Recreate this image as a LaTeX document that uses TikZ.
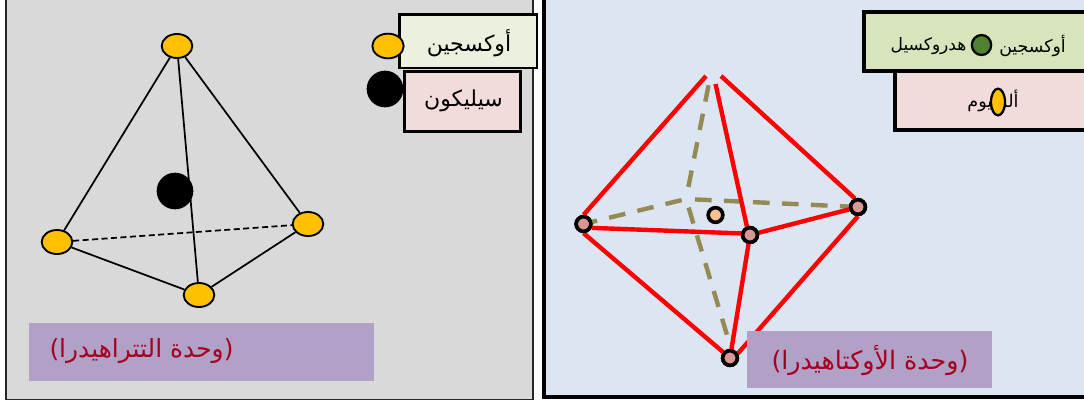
\documentclass[tikz,border=0pt]{standalone}
\usepackage{fontspec}
\TeXXeTstate=1
\newfontfamily\arabicfont[Script=Arabic]{DejaVu Sans}
\newcommand{\ar}[1]{{\arabicfont\beginR #1\endR}}
\definecolor{panelgrey}{HTML}{D9D9D9}
\definecolor{panelblue}{HTML}{DCE6F2}
\definecolor{oxy}{HTML}{FFC000}
\definecolor{palegreen}{HTML}{EBF1DE}
\definecolor{midgreen}{HTML}{D7E4BC}
\definecolor{palepink}{HTML}{F2DCDB}
\definecolor{purplebox}{HTML}{B2A1C7}
\definecolor{wine}{HTML}{A50021}
\definecolor{olivedash}{HTML}{948A54}
\definecolor{vertexpink}{HTML}{D99694}
\definecolor{peach}{HTML}{FAC090}
\definecolor{hydroxyl}{HTML}{4F8130}
\tikzset{
  x=0.75pt,y=-0.75pt,
  atom/.style={ellipse,draw=black,line width=1.4pt,fill=oxy,minimum width=23pt,minimum height=18pt,inner sep=0pt},
  blackatom/.style={circle,fill=black,minimum size=27.5pt,inner sep=0pt},
  vertexatom/.style={circle,draw=black,line width=2.7pt,fill=vertexpink,minimum size=11pt,inner sep=0pt},
  tedge/.style={draw=black,line width=1.3pt},
  redge/.style={draw=red,line width=3.3pt},
  hidden/.style={draw=olivedash,line width=3.3pt,dash pattern=on 12.5pt off 9.25pt},
  legend/.style={draw=black,line width=1.9pt,inner sep=0pt},
  caption/.style={fill=purplebox,inner sep=0pt},
  captiontext/.style={text=wine,inner sep=0pt},
  legendtext/.style={text=black,inner sep=0pt}
}
\usetikzlibrary{shapes.geometric}
\begin{document}
\begin{tikzpicture}
\useasboundingbox (0,0) rectangle (1084,401);
\fill[white] (0,0) rectangle (1084,401);
% left panel
\path[fill=panelgrey,draw=black!85,line width=1.4pt] (6,-5) rectangle (533,399.5);
% right panel
\path[fill=panelblue,draw=black,line width=3pt] (543.5,-5) rectangle (1095,396.5);

% tetrahedron
\node[atom] (ttop) at (177,46) {};
\node[atom] (tleft) at (57,242) {};
\node[atom] (tright) at (308,224) {};
\node[atom] (tbottom) at (199,295) {};
\draw[tedge] (ttop) -- (tleft);
\draw[tedge] (ttop) -- (tright);
\draw[tedge] (ttop) -- (tbottom);
\draw[tedge] (tleft) -- (tbottom);
\draw[tedge] (tright) -- (tbottom);
\draw[tedge,dash pattern=on 4.5pt off 2.6pt] (tleft) -- (tright);
\node[blackatom] (tcentre) at (175,191) {};

% tetra legend
\node[legend,fill=palegreen,minimum width=103pt,minimum height=40pt] (boxO) at (468.25,41.25) {};
\node[legend,fill=palepink,minimum width=87pt,minimum height=45pt] (boxSi) at (462.5,101.5) {};
\node[atom,minimum width=23.5pt,minimum height=18.5pt] (legO) at (388,46) {};
\node[blackatom] (legSi) at (385,89) {};
\node[legendtext,font=\fontsize{16.5}{18}\selectfont] (txtO) at (469,43) {\ar{أوكسجين}};
\node[legendtext,font=\fontsize{16.5}{18}\selectfont] (txtSi) at (463.5,101) {\ar{سيليكون}};

% tetra caption
\node[caption,minimum width=258.75pt,minimum height=43.5pt] (capT) at (201.5,352) {};
\node[captiontext,font=\fontsize{18.7}{22}\selectfont] (capTtxt) at (141.5,351) {\ar{(وحدة التتراهيدرا)}};

% octahedron
\coordinate (otopL) at (706,76);
\coordinate (otopR) at (721,76);
\coordinate (otopF) at (715.5,84);
\coordinate (otopD) at (709,83);
\coordinate (ocentre) at (686,199);
\coordinate (obottomD) at (730,345);
\node[vertexatom] (oleft) at (583.5,224) {};
\node[vertexatom] (oright) at (858,207) {};
\node[vertexatom] (ofront) at (750,235) {};
\node[vertexatom] (obottom) at (730,358) {};
\draw[hidden,dash phase=12.5pt] (ocentre) -- (otopD);
\draw[hidden,dash phase=15pt] (ocentre) -- (obottomD);
\draw[hidden,dash phase=18.4pt] (ocentre) -- (oleft);
\draw[hidden,dash phase=15pt] (ocentre) -- (oright);
\draw[redge] (oleft.north) -- (otopL);
\draw[redge] (oright.110) -- (otopR);
\draw[redge] (ofront.110) -- (otopF);
\draw[redge] (oleft.-25) -- (ofront.170);
\draw[redge] (ofront) -- (oright.195);
\draw[redge] (oleft.south) -- (obottom);
\draw[redge] (oright.south) -- (obottom.30);
\draw[redge] (ofront) -- (obottom);
\node[vertexatom] at (oleft) {};
\node[vertexatom] at (oright) {};
\node[vertexatom] at (ofront) {};
\node[vertexatom] at (obottom) {};
\node[vertexatom,fill=peach] (ometal) at (715.5,215) {};

% octa legend
\node[legend,fill=midgreen,line width=3pt,minimum width=190pt,minimum height=44.25pt] (boxOH) at (990.5,41.5) {};
\node[legend,fill=palepink,line width=3pt,minimum width=170pt,minimum height=43.9pt] (boxAl) at (1008,100.25) {};
\node[legendtext,font=\fontsize{13}{15}\selectfont] (txtOH1) at (1032.5,46) {\ar{أوكسجين}};
\node[legendtext,font=\fontsize{12.8}{15}\selectfont] (txtOH2) at (928.5,46) {\ar{هدروكسيل}};
\node[legendtext,font=\fontsize{13.2}{15}\selectfont] (txtAl) at (993,101) {\ar{ألمنيوم}};
\node[atom,fill=hydroxyl,line width=1.7pt,minimum width=14.5pt,minimum height=15pt] (legOH) at (981.5,45) {};
\node[atom,line width=1.7pt,minimum width=10.5pt,minimum height=20pt] (legAl) at (998,102) {};

% octa caption
\node[caption,minimum width=183.75pt,minimum height=42.75pt] (capO) at (869.5,359.5) {};
\node[captiontext,font=\fontsize{19}{22}\selectfont] (capOtxt) at (870,360) {\ar{(وحدة الأوكتاهيدرا)}};
\end{tikzpicture}
\end{document}
